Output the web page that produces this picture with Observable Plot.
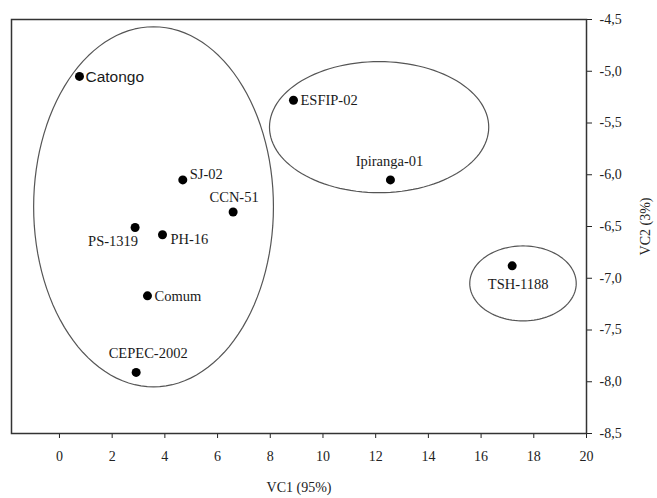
<!DOCTYPE html>
<html>
<head>
<meta charset="utf-8">
<script src="https://cdn.jsdelivr.net/npm/d3@7"></script>
<script src="https://cdn.jsdelivr.net/npm/@observablehq/plot@0.6"></script>
<style>
  html, body { margin: 0; padding: 0; background: #fff; }
  #chart svg { display: block; }
</style>
</head>
<body>
<div id="chart"></div>
<script>
// ---- data ----
const names = ["Catongo", "ESFIP-02", "SJ-02", "CCN-51", "PS-1319", "PH-16", "Ipiranga-01", "Comum", "CEPEC-2002", "TSH-1188"];
const vc1 = [0.76, 8.88, 4.68, 6.59, 2.87, 3.91, 12.56, 3.34, 2.91, 17.18];
const vc2 = [-5.05, -5.28, -6.05, -6.36, -6.51, -6.58, -6.05, -7.17, -7.91, -6.88];
// group ellipses: center x, center y, radius x, radius y (data units)
const ellipseCx = [3.57, 12.13, 17.59];
const ellipseCy = [-6.31, -5.54, -7.05];
const ellipseRx = [4.55, 4.16, 2.02];
const ellipseRy = [1.74, 0.633, 0.362];
const xTicks = [0, 2, 4, 6, 8, 10, 12, 14, 16, 18, 20];
const yTicks = [-4.5, -5.0, -5.5, -6.0, -6.5, -7.0, -7.5, -8.0, -8.5];

// ---- build tables ----
const points = names.map((n, i) => ({name: n, x: vc1[i], y: vc2[i]}));
const ellipsePts = [];
ellipseCx.forEach((cx, k) => {
  d3.range(0, 361, 3).forEach(a => {
    const t = a * Math.PI / 180;
    ellipsePts.push({g: k, x: cx + ellipseRx[k] * Math.cos(t), y: ellipseCy[k] + ellipseRy[k] * Math.sin(t)});
  });
});

// label placement (style only)
const labelStyle = {
  "Catongo":     {dx: 6,   dy: 1,   anchor: "start",  font: "sans"},
  "ESFIP-02":    {dx: 7,   dy: 0,   anchor: "start"},
  "SJ-02":       {dx: 7,   dy: -6,  anchor: "start"},
  "CCN-51":      {dx: 1,   dy: -15, anchor: "middle"},
  "PS-1319":     {dx: -22, dy: 14,  anchor: "middle"},
  "PH-16":       {dx: 8,   dy: 5,   anchor: "start"},
  "Ipiranga-01": {dx: -1,  dy: -19, anchor: "middle"},
  "Comum":       {dx: 7,   dy: 1,   anchor: "start"},
  "CEPEC-2002":  {dx: 12,  dy: -19, anchor: "middle"},
  "TSH-1188":    {dx: 6,   dy: 19,  anchor: "middle"}
};

const fmt = d => d3.format(".1f")(d).replace(".", ",").replace("\u2212", "-");
const serif = "'Liberation Serif', 'DejaVu Serif', serif";

const labelMarks = points.map(p => {
  const s = labelStyle[p.name];
  return Plot.text([p], {
    x: "x", y: "y", text: "name",
    dx: s.dx, dy: s.dy, textAnchor: s.anchor,
    fontFamily: s.font ? "'Liberation Sans', Arial, sans-serif" : serif,
    fontSize: s.font ? 15.5 : 14.5, fill: "#1a1a1a"
  });
});

const chart = Plot.plot({
  width: 657,
  height: 498,
  marginLeft: 11,
  marginRight: 71,
  marginTop: 19,
  marginBottom: 65,
  style: {fontFamily: serif, fontSize: "14px", color: "#222", background: "#fff"},
  x: {domain: [-1.82, 20]},
  y: {domain: [-8.5, -4.5]},
  marks: [
    Plot.axisX({ticks: xTicks, tickSize: 5, tickPadding: 13, label: "VC1 (95%)", labelAnchor: "center", labelArrow: "none", labelOffset: 58, fontSize: 14}),
    Plot.axisY({anchor: "right", ticks: yTicks, tickFormat: fmt, tickSize: 5, tickPadding: 8, label: "VC2 (3%)", labelAnchor: "center", labelArrow: "none", labelOffset: 63, fontSize: 14}),
    Plot.frame({stroke: "#333", strokeWidth: 1.5}),
    Plot.line(ellipsePts, {x: "x", y: "y", z: "g", stroke: "#555", strokeWidth: 1.2, curve: "linear"}),
    Plot.dot(points, {x: "x", y: "y", r: 4.5, fill: "#000", stroke: "none"}),
    ...labelMarks
  ]
});
document.getElementById("chart").appendChild(chart);
</script>
</body>
</html>
